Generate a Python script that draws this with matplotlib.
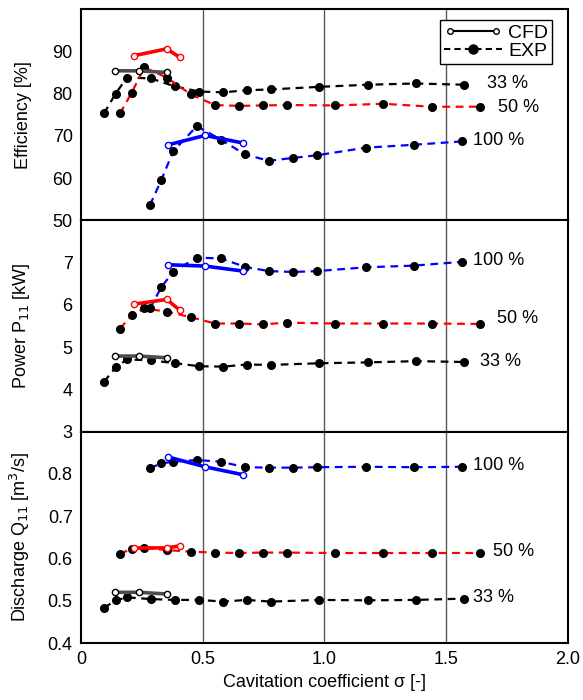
import matplotlib.pyplot as plt
from matplotlib.lines import Line2D
from matplotlib.legend_handler import HandlerLine2D

plt.rcParams['font.family'] = ['Liberation Sans', 'DejaVu Sans']

# EXP operating points (cavitation coefficient)
sig_33 = [0.094, 0.142, 0.189, 0.287, 0.386, 0.485, 0.585, 0.680, 0.779, 0.977, 1.177, 1.376, 1.574]
sig_50 = [0.160, 0.208, 0.260, 0.352, 0.452, 0.550, 0.649, 0.746, 0.845, 1.043, 1.242, 1.441, 1.640]
sig_100 = [0.283, 0.330, 0.379, 0.476, 0.575, 0.674, 0.772, 0.872, 0.968, 1.169, 1.368, 1.566]

# CFD points
cfd_sig_33 = [0.140, 0.238, 0.352]
cfd_sig_50 = [0.219, 0.352, 0.405]
cfd_sig_100 = [0.359, 0.509, 0.667]

# efficiency [%]
eff_33 = [75.3, 80.0, 83.8, 83.6, 81.7, 80.5, 80.3, 80.8, 81.0, 81.6, 82.1, 82.4, 82.1]
eff_50 = [75.3, 80.2, 86.2, 83.8, 79.8, 77.3, 77.1, 77.2, 77.3, 77.2, 77.6, 76.9, 76.9]
eff_100 = [53.6, 59.6, 66.4, 72.3, 69.1, 65.6, 64.1, 64.8, 65.4, 67.2, 67.9, 68.7]
cfd_eff_33 = [85.4, 85.4, 85.0]
cfd_eff_50 = [89.0, 90.6, 88.6]
cfd_eff_100 = [67.9, 70.1, 68.3]

# power P11 [kW]
pow_33 = [4.18, 4.52, 4.71, 4.69, 4.62, 4.55, 4.54, 4.59, 4.58, 4.62, 4.64, 4.67, 4.65]
pow_50 = [5.44, 5.75, 5.92, 5.84, 5.71, 5.56, 5.56, 5.54, 5.58, 5.56, 5.56, 5.56, 5.55]
pow_100 = [5.92, 6.42, 6.79, 7.12, 7.10, 6.90, 6.80, 6.78, 6.80, 6.89, 6.93, 7.02]
cfd_pow_33 = [4.79, 4.79, 4.75]
cfd_pow_50 = [6.02, 6.13, 5.88]
cfd_pow_100 = [6.95, 6.92, 6.80]

# discharge Q11 [m3/s]
q_33 = [0.483, 0.501, 0.508, 0.504, 0.502, 0.502, 0.498, 0.502, 0.498, 0.502, 0.501, 0.502, 0.505]
q_50 = [0.611, 0.623, 0.625, 0.620, 0.616, 0.614, 0.613, 0.614, 0.614, 0.613, 0.613, 0.613, 0.613]
q_100 = [0.814, 0.825, 0.829, 0.833, 0.829, 0.816, 0.815, 0.815, 0.816, 0.817, 0.816, 0.817]
cfd_q_33 = [0.520, 0.520, 0.516]
cfd_q_50 = [0.625, 0.625, 0.630]
cfd_q_100 = [0.840, 0.817, 0.798]

colors = {'33': '0.3', '50': 'red', '100': 'blue'}
exp_colors = {'33': 'black', '50': 'red', '100': 'blue'}
cfd_edge = {'33': 'black', '50': 'red', '100': 'blue'}

fig, axes = plt.subplots(3, 1, figsize=(5.83, 7.0), dpi=100, sharex=True)
fig.subplots_adjust(left=0.139, right=0.974, bottom=0.0814, top=0.987, hspace=0)

panels = [
    (axes[0], 'Efficiency [%]', (50, 100), [50, 60, 70, 80, 90], ['50', '60', '70', '80', '90'],
     {'33': eff_33, '50': eff_50, '100': eff_100},
     {'33': cfd_eff_33, '50': cfd_eff_50, '100': cfd_eff_100},
     {'33': (1.667, 82.5), '50': (1.712, 76.8), '100': (1.61, 69.0)}),
    (axes[1], 'Power P$_{11}$ [kW]', (3, 8), [3, 4, 5, 6, 7], ['3', '4', '5', '6', '7'],
     {'33': pow_33, '50': pow_50, '100': pow_100},
     {'33': cfd_pow_33, '50': cfd_pow_50, '100': cfd_pow_100},
     {'33': (1.639, 4.65), '50': (1.708, 5.67), '100': (1.61, 7.05)}),
    (axes[2], 'Discharge Q$_{11}$ [m$^3$/s]', (0.4, 0.9), [0.4, 0.5, 0.6, 0.7, 0.8],
     ['0.4', '0.5', '0.6', '0.7', '0.8'],
     {'33': q_33, '50': q_50, '100': q_100},
     {'33': cfd_q_33, '50': cfd_q_50, '100': cfd_q_100},
     {'33': (1.61, 0.508), '50': (1.692, 0.617), '100': (1.61, 0.819)}),
]

sig = {'33': sig_33, '50': sig_50, '100': sig_100}
cfd_sig = {'33': cfd_sig_33, '50': cfd_sig_50, '100': cfd_sig_100}

for ax, ylabel, ylim, yt, ytl, exp, cfd, labels in panels:
    for x in [0.5, 1.0, 1.5]:
        ax.axvline(x, color='0.35', lw=1.0, zorder=0)
    for k in ['33', '50', '100']:
        ax.plot(sig[k], exp[k], color=exp_colors[k], ls=(0, (3.5, 2.5)), lw=1.6,
                marker='o', ms=5.5, mfc='black', mec='black', zorder=2)
        ax.plot(cfd_sig[k], cfd[k], color=colors[k], ls='-', lw=2.6,
                marker='o', ms=4.5, mfc='white', mec=cfd_edge[k], mew=1.0, zorder=3)
        tx, ty = labels[k]
        ax.text(tx, ty, k + ' %', fontsize=13, va='center', ha='left')
    ax.set_ylim(*ylim)
    ax.set_yticks(yt)
    ax.set_yticklabels(ytl)
    ax.set_ylabel(ylabel, fontsize=13)
    ax.tick_params(length=0, labelsize=13, pad=6)
    for s in ax.spines.values():
        s.set_linewidth(1.5)
    ax.yaxis.set_label_coords(-0.1, 0.5)

ax = axes[2]
ax.set_xlim(0, 2.0)
ax.set_xticks([0, 0.5, 1.0, 1.5, 2.0])
ax.set_xticklabels(['0', '0.5', '1.0', '1.5', '2.0'])
ax.set_xlabel('Cavitation coefficient σ [-]', fontsize=13)

h_cfd = Line2D([], [], color='black', ls='-', lw=1.5, marker='o', ms=4,
               mfc='white', mec='black')
h_exp = Line2D([], [], color='black', ls=(0, (3, 2)), lw=1.5, marker='o', ms=6.5,
               mfc='black', mec='black')
axes[0].legend([h_cfd, h_exp], ['CFD', 'EXP'], loc='upper right',
               bbox_to_anchor=(0.967, 0.948), borderaxespad=0, fontsize=14, frameon=True,
               fancybox=False, edgecolor='black', framealpha=1,
               handlelength=3.0, handletextpad=0.3, borderpad=0.2, labelspacing=0.05,
               handler_map={h_cfd: HandlerLine2D(numpoints=2),
                            h_exp: HandlerLine2D(numpoints=1)})

fig.savefig('out.png', dpi=100)
